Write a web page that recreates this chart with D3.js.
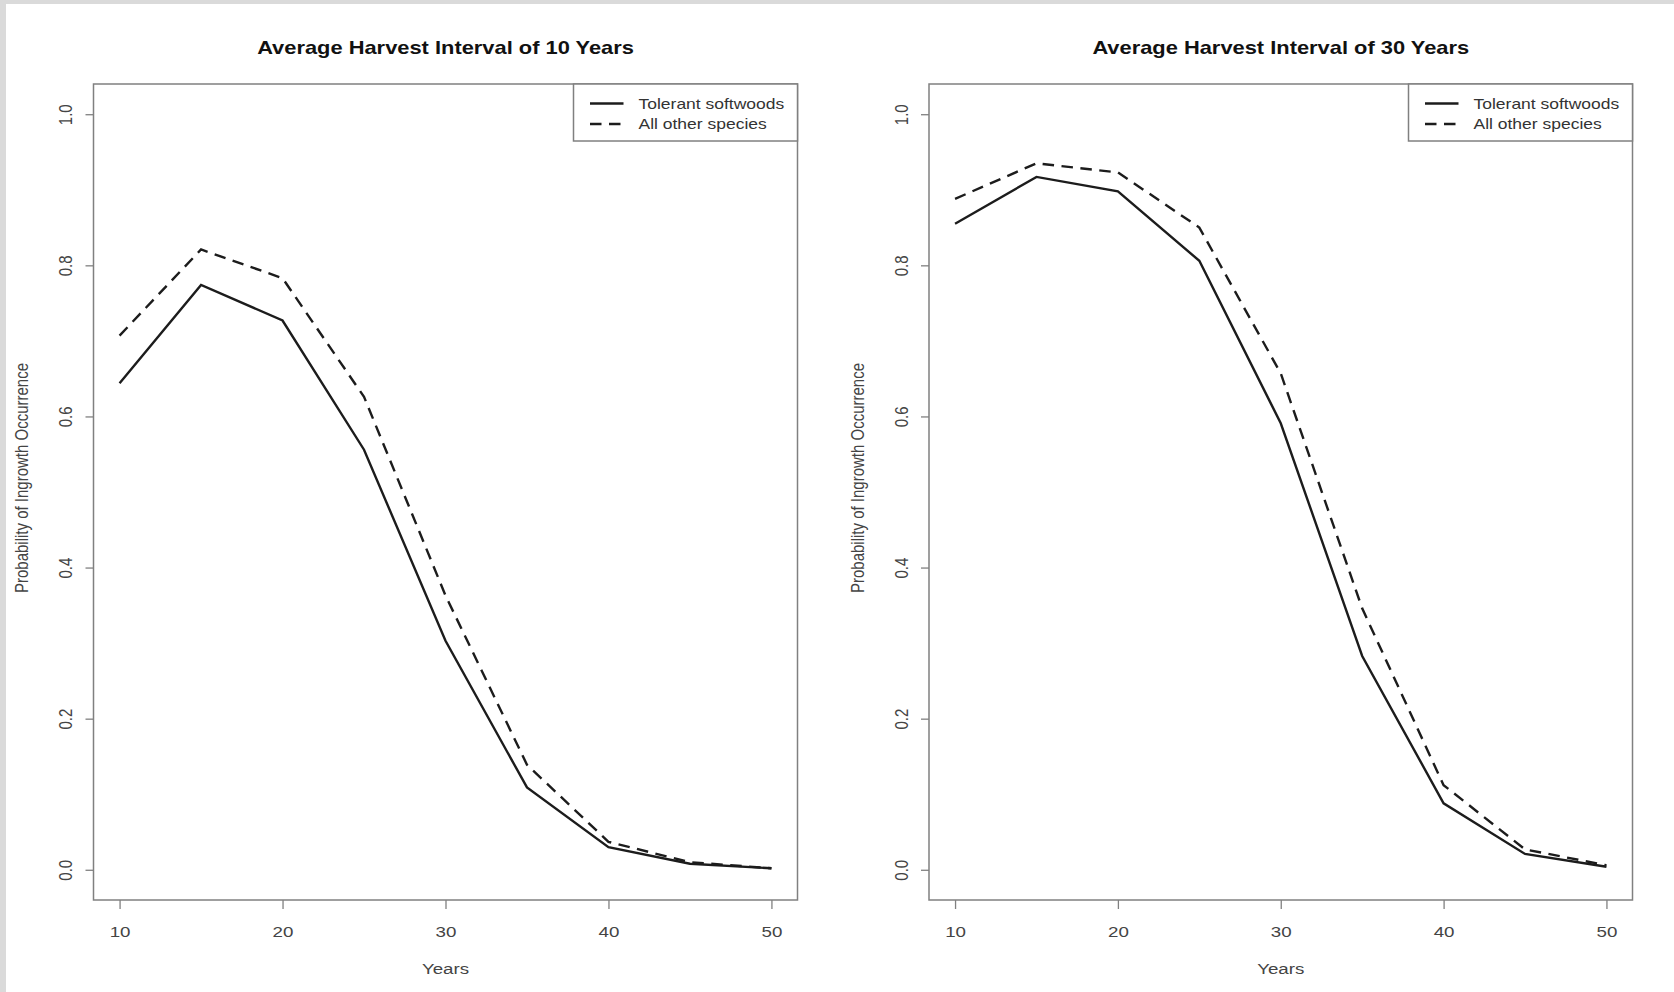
<!DOCTYPE html>
<html>
<head>
<meta charset="utf-8">
<script src="https://cdn.jsdelivr.net/npm/d3@7"></script>
<style>
  html, body { margin: 0; padding: 0; background: #fff; }
  svg { display: block; font-family: "Liberation Sans", Arial, sans-serif; }
</style>
</head>
<body>
<div id="chart"></div>
<script>
// data
const years = [10, 15, 20, 25, 30, 35, 40, 45, 50];
const tolerant10 = [0.644, 0.774, 0.727, 0.556, 0.303, 0.109, 0.030, 0.008, 0.002];
const other10    = [0.707, 0.821, 0.783, 0.626, 0.363, 0.139, 0.037, 0.010, 0.002];
const tolerant30 = [0.855, 0.917, 0.898, 0.806, 0.591, 0.283, 0.088, 0.021, 0.004];
const other30    = [0.888, 0.935, 0.923, 0.850, 0.657, 0.346, 0.112, 0.027, 0.006];
const xTicks = [10, 20, 30, 40, 50];
const yTicks = [0, 0.2, 0.4, 0.6, 0.8, 1.0];
const seriesNames = ["Tolerant softwoods", "All other species"];
const titles = ["Average Harvest Interval of 10 Years", "Average Harvest Interval of 30 Years"];

const width = 1674, height = 992;
const SX = 1.25;           // the picture's text is stretched sideways
const boxColor = "#808080";
const ink = "#1c1c1c";
const dash = "11.5,7.5";

const svg = d3.select("#chart").append("svg")
  .attr("width", width)
  .attr("height", height);

// textured grey edge of the screenshot
svg.append("rect").attr("x", 0).attr("y", 0).attr("width", 6).attr("height", height).attr("fill", "#dadada");
svg.append("rect").attr("x", 0).attr("y", 0).attr("width", width).attr("height", 4).attr("fill", "#dadada");

const panels = [
  { left: 93.5, right: 797.5, title: titles[0], a: tolerant10, b: other10 },
  { left: 929, right: 1632.5, title: titles[1], a: tolerant30, b: other30 }
];
const plotTop = 84, plotBottom = 900;

panels.forEach(p => {
  const x = d3.scaleLinear().domain([8.4, 51.6]).range([p.left, p.right]);
  const y = d3.scaleLinear().domain([-0.04, 1.04]).range([plotBottom, plotTop]);
  const g = svg.append("g");
  const cx = (p.left + p.right) / 2;

  // x axis
  const xa = g.append("g")
    .attr("transform", `translate(0,${plotBottom})`)
    .call(d3.axisBottom(x).tickValues(xTicks).tickSize(9).tickFormat(d3.format("d")));
  xa.select(".domain").remove();
  xa.selectAll("line").attr("stroke", boxColor).attr("stroke-width", 1.3);
  xa.selectAll("text")
    .attr("x", 0).attr("y", 0).attr("dy", null)
    .attr("transform", `translate(0,37) scale(${SX},1)`)
    .attr("fill", "#444").attr("font-size", 15).attr("font-family", null);

  // y axis
  const ya = g.append("g")
    .attr("transform", `translate(${p.left},0)`)
    .call(d3.axisLeft(y).tickValues(yTicks).tickSize(8).tickFormat(d3.format(".1f")));
  ya.select(".domain").remove();
  ya.selectAll("line").attr("stroke", boxColor).attr("stroke-width", 1.3);
  ya.selectAll("text")
    .attr("x", 0).attr("y", 0).attr("dy", null)
    .attr("text-anchor", "middle")
    .attr("transform", `translate(-21.5,0) scale(${SX},1) rotate(-90)`)
    .attr("fill", "#444").attr("font-size", 15).attr("font-family", null);

  // box
  g.append("rect")
    .attr("x", p.left).attr("y", plotTop)
    .attr("width", p.right - p.left).attr("height", plotBottom - plotTop)
    .attr("fill", "none").attr("stroke", boxColor).attr("stroke-width", 1.5);

  // lines
  const line = d3.line().x((d, i) => x(years[i])).y(d => y(d));
  g.append("path").datum(p.a)
    .attr("d", line).attr("fill", "none")
    .attr("stroke", ink).attr("stroke-width", 2.4);
  g.append("path").datum(p.b)
    .attr("d", line).attr("fill", "none")
    .attr("stroke", ink).attr("stroke-width", 2.4)
    .attr("stroke-dasharray", dash);

  // title
  g.append("text")
    .attr("transform", `translate(${cx},54) scale(${SX},1)`)
    .attr("text-anchor", "middle")
    .attr("font-size", 17.5).attr("font-weight", "bold").attr("fill", "#111")
    .text(p.title);

  // axis labels
  g.append("text")
    .attr("transform", `translate(${cx},974) scale(${SX},1)`)
    .attr("text-anchor", "middle")
    .attr("font-size", 15).attr("fill", "#444")
    .text("Years");
  g.append("text")
    .attr("transform", `translate(${p.left - 65.5},478) scale(${SX},1) rotate(-90)`)
    .attr("text-anchor", "middle")
    .attr("font-size", 15).attr("fill", "#444")
    .text("Probability of Ingrowth Occurrence");

  // legend
  const lg = g.append("g").attr("transform", `translate(${p.right - 224},${plotTop})`);
  lg.append("rect")
    .attr("width", 224).attr("height", 57)
    .attr("fill", "#fff").attr("stroke", boxColor).attr("stroke-width", 1.5);
  seriesNames.forEach((name, i) => {
    const ly = 19.5 + i * 20.5;
    lg.append("line")
      .attr("x1", 16.5).attr("x2", 50).attr("y1", ly).attr("y2", ly)
      .attr("stroke", ink).attr("stroke-width", 2.4)
      .attr("stroke-dasharray", i === 1 ? dash : null);
    lg.append("text")
      .attr("transform", `translate(65,${ly + 5}) scale(${SX},1)`)
      .attr("font-size", 14).attr("fill", "#333")
      .text(name);
  });
});
</script>
</body>
</html>
